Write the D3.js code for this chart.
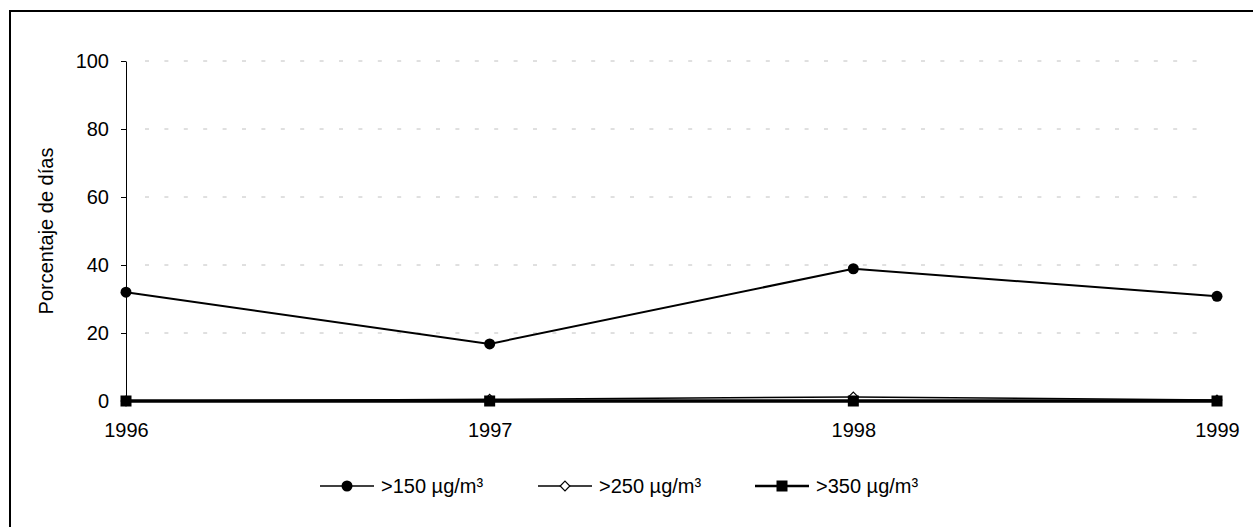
<!DOCTYPE html>
<html>
<head>
<meta charset="utf-8">
<script src="https://cdn.jsdelivr.net/npm/d3@7"></script>
<style>
  body { margin: 0; background: #fff; }
  svg { display: block; font-family: Arial, "Liberation Sans", sans-serif; }
</style>
</head>
<body>
<div class="chart"></div>
<script>
// Chart data
const years = ["1996", "1997", "1998", "1999"];
const over150 = [32, 16.8, 38.9, 30.8];
const over250 = [0, 0.5, 1.2, 0.3];
const over350 = [0, 0, 0, 0];
const yTicks = [0, 20, 40, 60, 80, 100];
const seriesNames = [">150 µg/m³", ">250 µg/m³", ">350 µg/m³"];

const width = 1253;
const height = 527;
const margin = { top: 61, right: 36, bottom: 126, left: 126 };

const svg = d3.select(".chart")
    .append("svg")
    .attr("width", width)
    .attr("height", height);

// Outer frame (runs off the right and bottom edge)
svg.append("rect")
    .attr("x", 10)
    .attr("y", 11)
    .attr("width", width + 10)
    .attr("height", height + 10)
    .attr("fill", "none")
    .attr("stroke", "#000")
    .attr("stroke-width", 2);

const x = d3.scalePoint()
    .domain(years)
    .range([margin.left, width - margin.right]);

const y = d3.scaleLinear()
    .domain([0, 100])
    .range([height - margin.bottom, margin.top]);

// Dashed gridlines
svg.append("g")
    .selectAll("line")
    .data(yTicks.filter(d => d > 0))
    .join("line")
    .attr("x1", margin.left + 19)
    .attr("x2", width - margin.right - 10)
    .attr("y1", d => y(d))
    .attr("y2", d => y(d))
    .attr("stroke", "#c0c0c0")
    .attr("stroke-width", 1)
    .attr("stroke-dasharray", "4,15.4");

// Y axis
const yAxis = svg.append("g")
    .attr("transform", `translate(${margin.left},0)`)
    .call(d3.axisLeft(y).tickValues(yTicks).tickSize(5).tickPadding(12).tickSizeOuter(0));
yAxis.select(".domain").attr("stroke", "#000");
yAxis.selectAll("text").style("font-size", "20px").attr("fill", "#000");

// X axis
const xAxis = svg.append("g")
    .attr("transform", `translate(0,${y(0)})`)
    .call(d3.axisBottom(x).tickSize(4).tickPadding(18).tickSizeOuter(0));
xAxis.select(".domain").attr("stroke", "#000");
xAxis.selectAll("text").style("font-size", "20px").attr("fill", "#000");

// Y axis title
svg.append("text")
    .attr("transform", `translate(53,${(y(0) + y(100)) / 2}) rotate(-90)`)
    .attr("text-anchor", "middle")
    .style("font-size", "20px")
    .text("Porcentaje de días");

const line = d3.line()
    .x((d, i) => x(years[i]))
    .y(d => y(d));

const diamond = d3.symbol().type(d3.symbolDiamond2).size(60);

// >250 series (open diamonds)
svg.append("path")
    .datum(over250)
    .attr("d", line)
    .attr("fill", "none")
    .attr("stroke", "#000")
    .attr("stroke-width", 1.5);
svg.append("g")
    .selectAll("path")
    .data(over250)
    .join("path")
    .attr("d", diamond)
    .attr("transform", (d, i) => `translate(${x(years[i])},${y(d)})`)
    .attr("fill", "#fff")
    .attr("stroke", "#000")
    .attr("stroke-width", 1.2);

// >350 series (thick line, filled squares)
svg.append("path")
    .datum(over350)
    .attr("d", line)
    .attr("fill", "none")
    .attr("stroke", "#000")
    .attr("stroke-width", 3.5);
svg.append("g")
    .selectAll("rect")
    .data(over350)
    .join("rect")
    .attr("x", (d, i) => x(years[i]) - 5.5)
    .attr("y", d => y(d) - 5.5)
    .attr("width", 11)
    .attr("height", 11)
    .attr("fill", "#000");

// >150 series (filled circles)
svg.append("path")
    .datum(over150)
    .attr("d", line)
    .attr("fill", "none")
    .attr("stroke", "#000")
    .attr("stroke-width", 2);
svg.append("g")
    .selectAll("circle")
    .data(over150)
    .join("circle")
    .attr("cx", (d, i) => x(years[i]))
    .attr("cy", d => y(d))
    .attr("r", 5.5)
    .attr("fill", "#000");

// Legend
const legendY = 486;
const legendX = [320, 538, 755];
const legend = svg.append("g")
    .selectAll("g")
    .data(seriesNames)
    .join("g")
    .attr("transform", (d, i) => `translate(${legendX[i]},${legendY})`);

legend.append("line")
    .attr("x1", 0)
    .attr("x2", 54)
    .attr("stroke", "#000")
    .attr("stroke-width", (d, i) => i === 2 ? 2.5 : 1.5);

legend.each(function (d, i) {
    const g = d3.select(this);
    if (i === 0) {
        g.append("circle").attr("cx", 27).attr("r", 5.5).attr("fill", "#000");
    } else if (i === 1) {
        g.append("path").attr("d", diamond).attr("transform", "translate(27,0)")
            .attr("fill", "#fff").attr("stroke", "#000").attr("stroke-width", 1.2);
    } else {
        g.append("rect").attr("x", 21.5).attr("y", -5.5).attr("width", 11).attr("height", 11).attr("fill", "#000");
    }
});

legend.append("text")
    .attr("x", 61)
    .attr("dy", "0.35em")
    .style("font-size", "20px")
    .text(d => d);
</script>
</body>
</html>
